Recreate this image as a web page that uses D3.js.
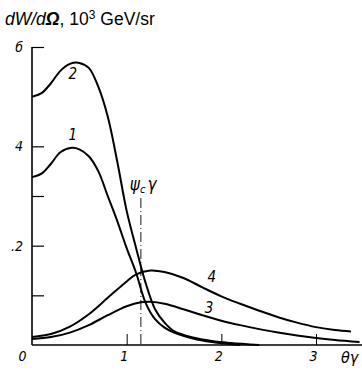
<!DOCTYPE html>
<html>
<head>
<meta charset="utf-8">
<script src="https://cdn.jsdelivr.net/npm/d3@7"></script>
<style>
  body { margin: 0; background: #fff; }
  svg { display: block; }
  .tick text { font-family: "Liberation Sans Narrow", "DejaVu Sans Condensed", sans-serif; font-style: italic; font-size: 14px; fill: #000; }
  .lbl { font-family: "Liberation Sans Narrow", "DejaVu Sans Condensed", sans-serif; font-style: italic; font-size: 15px; }
</style>
</head>
<body>
<script>
// curves: theta*gamma vs dW/dOmega (10^3 GeV/sr)
const curve1 = [[0,3.38],[0.1,3.45],[0.2,3.65],[0.3,3.88],[0.42,3.97],[0.5,3.94],[0.6,3.8],[0.7,3.5],[0.8,3.0],[0.9,2.5],[1.0,1.95],[1.1,1.45],[1.2,0.85],[1.3,0.52],[1.4,0.35],[1.5,0.25],[1.7,0.13],[1.9,0.06],[2.2,0.0]];
const curve2 = [[0,5.0],[0.1,5.07],[0.2,5.27],[0.3,5.52],[0.4,5.66],[0.5,5.68],[0.6,5.58],[0.7,5.2],[0.8,4.6],[0.9,3.7],[1.0,2.7],[1.1,1.95],[1.2,1.25],[1.3,0.72],[1.4,0.45],[1.5,0.28],[1.7,0.15],[1.9,0.08],[2.1,0.04],[2.4,0.0]];
const curve3 = [[0,0.12],[0.2,0.16],[0.4,0.25],[0.6,0.4],[0.8,0.6],[1.0,0.78],[1.15,0.86],[1.25,0.87],[1.4,0.83],[1.6,0.72],[1.8,0.6],[2.0,0.49],[2.2,0.4],[2.4,0.32],[2.6,0.25],[2.8,0.19],[3.0,0.14],[3.2,0.1],[3.46,0.06]];
const curve4 = [[0,0.16],[0.2,0.22],[0.4,0.37],[0.6,0.62],[0.8,0.95],[1.0,1.28],[1.1,1.42],[1.25,1.5],[1.4,1.47],[1.6,1.35],[1.8,1.16],[2.0,0.98],[2.2,0.83],[2.4,0.69],[2.6,0.56],[2.8,0.45],[3.0,0.36],[3.2,0.3],[3.37,0.27]];
const curves = [curve1, curve2, curve3, curve4];
const curveLabels = ["1", "2", "3", "4"];
const labelAt = [[0.43, 4.12], [0.43, 5.36], [1.87, 0.64], [1.9, 1.27]];

const xTicks = [0, 1, 2, 3];
const yTicks = [1, 2, 3, 4, 6];
const yTickLabels = { 2: ".2", 4: "4", 6: "б" };
const phiC = 1.15; // psi_c * gamma marker

const W = 362, H = 373;
const svg = d3.select("body").append("svg").attr("width", W).attr("height", H);

const x = d3.scaleLinear().domain([0, 3]).range([32, 316]);
const y = d3.scaleLinear().domain([0, 6]).range([345, 47]);

// title
const title = svg.append("text")
  .attr("x", 5).attr("y", 25)
  .style("font-family", "Liberation Sans, Arial, sans-serif")
  .style("font-size", "17.5px");
title.append("tspan").style("font-style", "italic").text("dW/d");
title.append("tspan").style("font-style", "italic").style("font-weight", "bold").text("Ω");
title.append("tspan").text(", 10");
title.append("tspan").attr("dy", -6).style("font-size", "12px").text("3");
title.append("tspan").attr("dy", 6).text(" GeV/sr");

// axes
svg.append("line").attr("x1", x(0)).attr("x2", W).attr("y1", y(0)).attr("y2", y(0))
  .attr("stroke", "#000").attr("stroke-width", 1.6);
svg.append("line").attr("x1", x(0)).attr("x2", x(0)).attr("y1", y(0)).attr("y2", y(6))
  .attr("stroke", "#000").attr("stroke-width", 1.6);

const xAxis = svg.append("g").attr("transform", `translate(0,${y(0)})`)
  .call(d3.axisBottom(x).tickValues(xTicks).tickSizeInner(-11).tickSizeOuter(0).tickPadding(6).tickFormat(d3.format("d")));
xAxis.select(".domain").remove();
xAxis.selectAll(".tick line").attr("stroke-width", 1).filter(d => d === 0).remove();
xAxis.selectAll(".tick text").attr("dx", d => d === 0 ? -10 : -3).attr("text-anchor", "middle");

const yAxis = svg.append("g").attr("transform", `translate(${x(0)},0)`)
  .call(d3.axisLeft(y).tickValues(yTicks).tickSizeInner(-12).tickSizeOuter(0).tickPadding(9)
    .tickFormat(d => yTickLabels[d] || ""));
yAxis.select(".domain").remove();
yAxis.selectAll(".tick line").attr("stroke-width", 1.2);
yAxis.selectAll(".tick text").attr("dy", "0.32em");

// theta gamma axis label
svg.append("text").attr("class", "lbl").attr("x", 341).attr("y", 363)
  .style("font-size", "16px").text("θγ");

// psi_c gamma marker
svg.append("line").attr("x1", x(phiC)).attr("x2", x(phiC)).attr("y1", 198).attr("y2", y(0))
  .attr("stroke", "#000").attr("stroke-width", 0.9).attr("stroke-dasharray", "10,3,1,3");
const phi = svg.append("text").attr("class", "lbl").attr("x", x(phiC) - 11).attr("y", 190).style("font-size", "17px");
phi.append("tspan").text("ψ");
phi.append("tspan").attr("dy", 3).style("font-size", "11px").text("c");
phi.append("tspan").attr("dy", -3).attr("dx", 2).text("γ");

// curves
const line = d3.line().x(d => x(d[0])).y(d => y(d[1])).curve(d3.curveCatmullRom.alpha(0.5));
svg.append("g").selectAll("path").data(curves).join("path")
  .attr("d", line).attr("fill", "none").attr("stroke", "#000").attr("stroke-width", 2);

svg.append("g").selectAll("text").data(labelAt).join("text")
  .attr("class", "lbl")
  .attr("x", d => x(d[0])).attr("y", d => y(d[1]))
  .attr("text-anchor", "middle")
  .text((d, i) => curveLabels[i]);
</script>
</body>
</html>
